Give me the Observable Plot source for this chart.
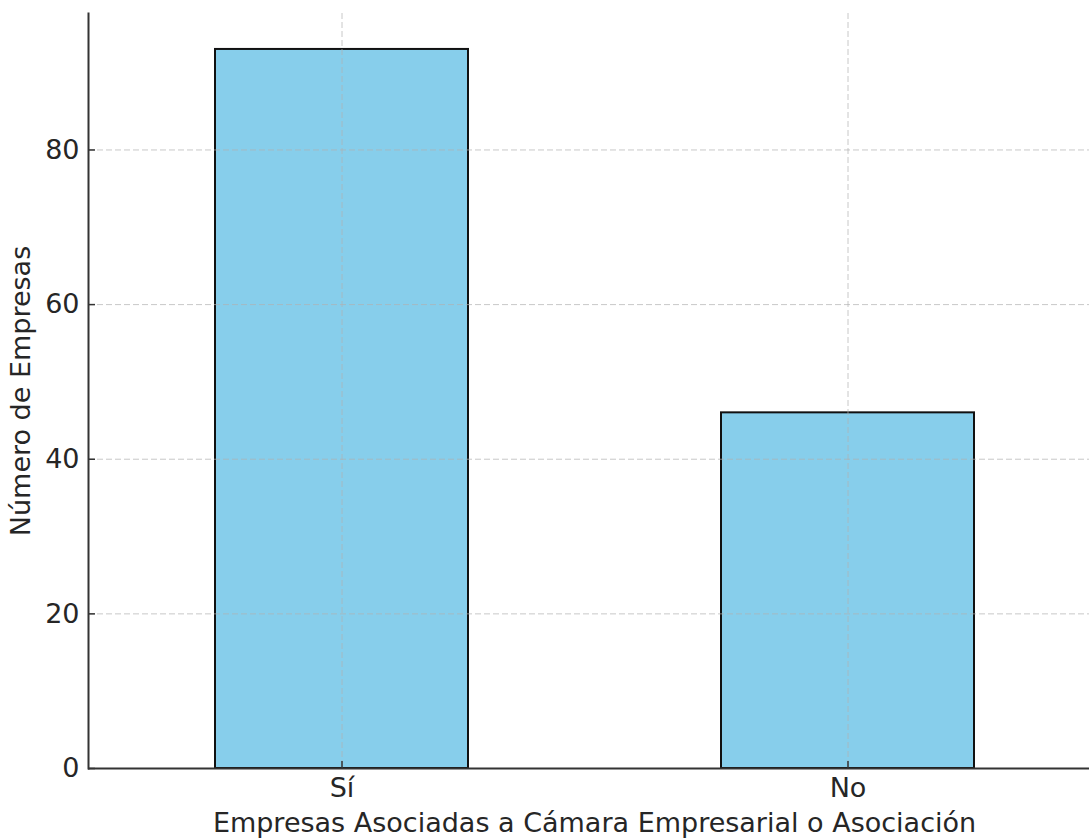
<!DOCTYPE html>
<html>
<head>
<meta charset="utf-8">
<script src="https://cdn.jsdelivr.net/npm/d3@7"></script>
<script src="https://cdn.jsdelivr.net/npm/@observablehq/plot@0.6"></script>
<style>
  html, body { margin: 0; padding: 0; background: #fff; }
  svg { display: block; }
</style>
</head>
<body>
<div id="chart"></div>
<script>
const categories = ["Sí", "No"];
const counts = [93, 46];
const yTicks = [0, 20, 40, 60, 80];
const xLabel = "Empresas Asociadas a Cámara Empresarial o Asociación";
const yLabel = "Número de Empresas";

const data = categories.map((c, i) => ({cat: c, n: counts[i]}));
const font = "DejaVu Sans, sans-serif";
const textColor = "#262626";
const gridStyle = {stroke: "#b0b0b0", strokeOpacity: 0.7, strokeWidth: 1, strokeDasharray: "6,3"};

const chart = Plot.plot({
  width: 1089,
  height: 838,
  marginLeft: 88,
  marginRight: -11,
  marginTop: 13,
  marginBottom: 70,
  style: {fontFamily: font, fontSize: "27px", color: textColor, background: "#fff"},
  x: {type: "band", domain: categories, range: [88, 1100], paddingInner: 0.5, paddingOuter: 0.25, axis: null},
  y: {domain: [0, 97.65], range: [768, 13], axis: null},
  marks: [
    Plot.barY(data, {x: "cat", y: "n", fill: "#87CEEB", stroke: "#111", strokeWidth: 2}),
    Plot.gridY(yTicks, gridStyle),
    Plot.gridX(categories, gridStyle),
    Plot.ruleY([0], {stroke: "#333", strokeWidth: 2}),
    Plot.frame({anchor: "left", stroke: "#333", strokeWidth: 2}),
    Plot.axisY(yTicks, {tickSize: 7, dx: 7, text: null, label: null, stroke: "#333", strokeWidth: 1.5}),
    Plot.axisY(yTicks, {tickSize: 0, tickPadding: 9, label: null, fontSize: 27, fill: textColor, tickFormat: d => String(d)}),
    Plot.axisX(categories, {tickSize: 7, dy: -7, text: null, label: null, stroke: "#333", strokeWidth: 1.5}),
    Plot.axisX(categories, {tickSize: 0, tickPadding: 9, label: null, fontSize: 27, fill: textColor}),
    Plot.text([yLabel], {frameAnchor: "left", textAnchor: "middle", lineAnchor: "middle", dx: -67, rotate: -90, fontSize: 27, fill: textColor}),
    Plot.text([xLabel], {frameAnchor: "bottom", textAnchor: "middle", lineAnchor: "middle", dy: 55, fontSize: 27, fill: textColor})
  ]
});
document.getElementById("chart").appendChild(chart);
</script>
</body>
</html>
